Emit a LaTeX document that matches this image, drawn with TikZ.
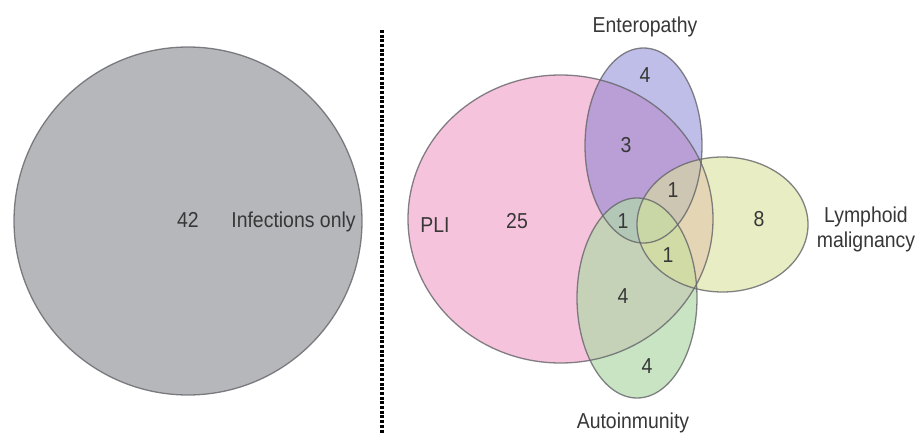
\documentclass[tikz,border=0pt]{standalone}
\usepackage{fontspec}
\setmainfont{Liberation Sans}
\usepackage{graphicx}
\definecolor{infgray}{RGB}{181,183,187}
\definecolor{pli}{RGB}{246,195,220}
\definecolor{entero}{RGB}{125,125,209}
\definecolor{autoimm}{RGB}{177,217,170}
\definecolor{lymph}{RGB}{217,225,155}
\definecolor{rim}{RGB}{100,100,105}
\definecolor{ink}{RGB}{55,55,55}
\newcommand{\lbltext}[1]{\scalebox{0.9}[1]{#1}}
\tikzset{
  setrim/.style={draw=rim, draw opacity=0.8, line width=1.3pt},
  lbl/.style={anchor=base, inner sep=0pt, text=ink,
    font=\fontsize{21.6}{25}\selectfont},
}
\begin{document}
\begin{tikzpicture}[x=1pt, y=-1pt]
\useasboundingbox (0,0) rectangle (918,433);

% left panel: infections only
\fill[infgray] (188,221) circle [radius=174];
\draw[setrim] (188,221) circle [radius=174];

% separator
\draw[line width=3.5pt, dash pattern=on 3pt off 1.7pt] (382,30) -- (382,433);

% right panel: fills
\fill[pli] (560.5,219) ellipse [x radius=152.5, y radius=144];
\fill[entero, fill opacity=0.5] (643.5,145.5) ellipse [x radius=58.5, y radius=97.5];
\fill[autoimm, fill opacity=0.7] (637,298) ellipse [x radius=60, y radius=100];
\fill[lymph, fill opacity=0.6] (722.5,224.5) ellipse [x radius=85.5, y radius=67.5];

% right panel: outlines
\draw[setrim] (560.5,219) ellipse [x radius=152.5, y radius=144];
\draw[setrim] (643.5,145.5) ellipse [x radius=58.5, y radius=97.5];
\draw[setrim] (637,298) ellipse [x radius=60, y radius=100];
\draw[setrim] (722.5,224.5) ellipse [x radius=85.5, y radius=67.5];

% labels and counts
\node[lbl] (n42) at (188,227) {\lbltext{42}};
\node[lbl] (infonly) at (293.5,227) {\lbltext{Infections only}};
\node[lbl] (entlbl) at (645,33) {\lbltext{Enteropathy}};
\node[lbl] (entonly) at (645,83) {\lbltext{4}};
\node[lbl] (pliEnt) at (626,153) {\lbltext{3}};
\node[lbl] (pliEntLy) at (673,197) {\lbltext{1}};
\node[lbl] (pliEntAu) at (623,228) {\lbltext{1}};
\node[lbl] (pliAuLy) at (668,262) {\lbltext{1}};
\node[lbl] (pliAu) at (623,303) {\lbltext{4}};
\node[lbl] (auonly) at (647,373) {\lbltext{4}};
\node[lbl] (lyonly) at (759,226) {\lbltext{8}};
\node[lbl] (plilbl) at (435,232) {\lbltext{PLI}};
\node[lbl] (plionly) at (517,228) {\lbltext{25}};
\node[lbl] (lylbl1) at (866,222) {\lbltext{Lymphoid}};
\node[lbl] (lylbl2) at (866,247) {\lbltext{malignancy}};
\node[lbl] (aulbl) at (633,428) {\lbltext{Autoinmunity}};
\end{tikzpicture}
\end{document}
